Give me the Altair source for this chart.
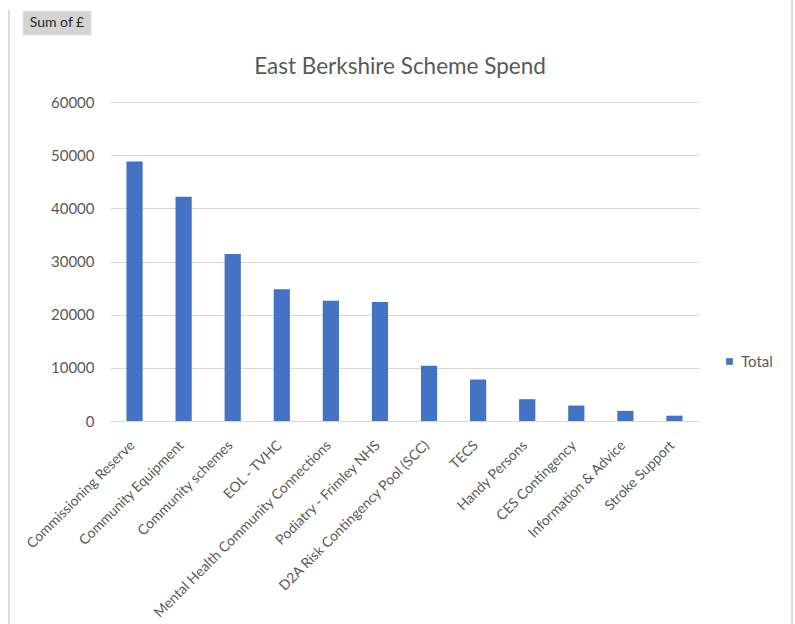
import altair as alt
import pandas as pd

categories = [
    "Commissioning Reserve",
    "Community Equipment",
    "Community schemes",
    "EOL - TVHC",
    "Mental Health Community Connections",
    "Podiatry - Frimley NHS",
    "D2A Risk Contingency Pool (SCC)",
    "TECS",
    "Handy Persons",
    "CES Contingency",
    "Information & Advice",
    "Stroke Support",
]
values = [48800, 42200, 31400, 24800, 22600, 22400, 10400, 7800, 4100, 2900, 1900, 1000]
series = ["Total"] * len(categories)
y_ticks = [0, 10000, 20000, 30000, 40000, 50000, 60000]
title_text = "East Berkshire Scheme Spend"

df = pd.DataFrame({"Scheme": categories, "Spend": values, "Series": series})

FONT = "Lato"
GREY = "#595959"

bars = alt.Chart(df).mark_bar(color="#4472C4").encode(
    x=alt.X(
        "Scheme:N",
        sort=None,
        scale=alt.Scale(paddingInner=0.67, paddingOuter=0.335),
        axis=alt.Axis(
            title=None,
            labelAngle=-45,
            labelAlign="right",
            labelBaseline="middle",
            labelPadding=22,
            labelOffset=-2,
            labelFontSize=14,
            labelColor=GREY,
            labelFont=FONT,
            ticks=False,
            domainColor="#d9d9d9",
            labelLimit=400,
        ),
    ),
    y=alt.Y(
        "Spend:Q",
        scale=alt.Scale(domain=[0, 60000], nice=False),
        axis=alt.Axis(
            title=None,
            values=y_ticks,
            format="d",
            labelFontSize=15,
            labelColor=GREY,
            labelFont=FONT,
            labelPadding=16,
            ticks=False,
            domain=False,
            gridColor="#d9d9d9",
        ),
    ),
    color=alt.Color(
        "Series:N",
        scale=alt.Scale(range=["#4472C4"]),
        legend=alt.Legend(
            title=None,
            orient="none",
            legendX=612,
            legendY=252,
            symbolType="square",
            symbolSize=45,
            symbolStrokeWidth=0,
            labelFontSize=15,
            labelColor=GREY,
            labelFont=FONT,
        ),
    ),
)

one = pd.DataFrame({"a": [0]})

frame_left = alt.Chart(one).mark_rule(color="#dcdcdc", strokeWidth=2).encode(
    x=alt.value(-101), y=alt.value(-92), y2=alt.value(522)
)
frame_right = alt.Chart(one).mark_rule(color="#dcdcdc", strokeWidth=2).encode(
    x=alt.value(682), y=alt.value(-102), y2=alt.value(522)
)
button = alt.Chart(one).mark_rect(color="#d4d4d4", stroke="#e6e6e6").encode(
    x=alt.value(-87), x2=alt.value(-19), y=alt.value(-91), y2=alt.value(-67)
)
button_text = alt.Chart(one).mark_text(
    text="Sum of £", font=FONT, fontSize=14, color="#262626", align="center", baseline="middle"
).encode(x=alt.value(-53), y=alt.value(-79))
title_mark = alt.Chart(one).mark_text(
    text=title_text, font=FONT, fontSize=22.5, color=GREY, align="center", baseline="alphabetic"
).encode(x=alt.value(290), y=alt.value(-28))

chart = (
    alt.layer(bars, frame_left, frame_right, button, button_text, title_mark)
    .properties(
        width=589,
        height=319,
        autosize=alt.AutoSizeParams(type="none"),
        padding={"left": 110, "top": 102, "right": 96, "bottom": 203},
    )
    .configure(background="white", view=alt.ViewConfig(stroke=None))
)

chart.save("out.html", embed_options={"renderer": "svg", "actions": False})
